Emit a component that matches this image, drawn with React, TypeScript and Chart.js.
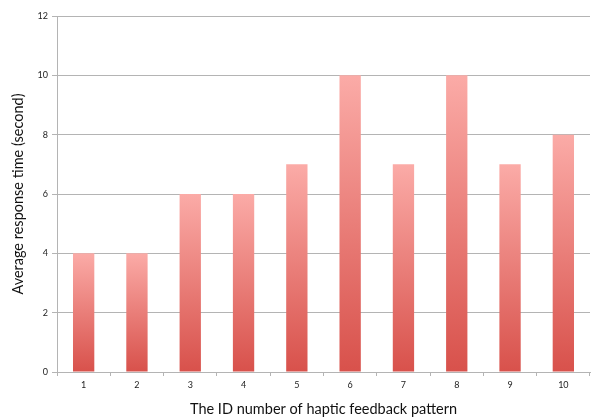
import React, { useEffect, useRef } from "react";
import { Chart, registerables } from "chart.js";

Chart.register(...registerables);

const patternIds = ["1", "2", "3", "4", "5", "6", "7", "8", "9", "10"];
const responseTimes = [4, 4, 6, 6, 7, 10, 7, 10, 7, 8];
const yTicks = [0, 2, 4, 6, 8, 10, 12];

const BAR_TOP = "#fbaba7";
const BAR_BOTTOM = "#d8514b";
const GRID = "#b4b4b4";
const FONT = "Lato, 'Liberation Sans', sans-serif";

export default function App() {
  const canvasRef = useRef<HTMLCanvasElement | null>(null);

  useEffect(() => {
    const canvas = canvasRef.current;
    if (!canvas) return;

    // Each bar fades from light pink at its top to deep red at the baseline.
    const barFill = (ctx: any) => {
      const chart = ctx.chart;
      const y = chart.scales?.y;
      if (!chart.chartArea || !y || ctx.dataIndex === undefined) return BAR_BOTTOM;
      const v = ctx.raw as number;
      const top = y.getPixelForValue(v);
      const base = y.getPixelForValue(0);
      const g = chart.ctx.createLinearGradient(0, top, 0, base);
      g.addColorStop(0, BAR_TOP);
      g.addColorStop(1, BAR_BOTTOM);
      return g;
    };

    const chart = new Chart(canvas, {
      type: "bar",
      data: {
        labels: patternIds,
        datasets: [
          {
            data: responseTimes,
            backgroundColor: barFill,
            borderWidth: 0,
            barPercentage: 0.8,
            categoryPercentage: 0.5,
          },
        ],
      },
      options: {
        responsive: false,
        animation: false,
        layout: { padding: { top: 16, right: 2, left: 0, bottom: 0 } },
        plugins: {
          legend: { display: false },
          tooltip: { enabled: false },
        },
        scales: {
          x: {
            grid: {
              display: true,
              offset: true,
              drawOnChartArea: false,
              drawTicks: true,
              tickLength: 4,
              color: GRID,
            },
            border: { display: true, color: GRID },
            ticks: {
              color: "#222",
              font: { family: FONT, size: 9 },
              padding: 4,
            },
            title: {
              display: true,
              text: "The ID number of haptic feedback pattern",
              color: "#111",
              font: { family: FONT, size: 14.5 },
              padding: { top: 6, bottom: 1 },
            },
            afterFit: (scale: any) => {
              scale.height = 47;
            },
          },
          y: {
            min: 0,
            max: 12,
            afterBuildTicks: (scale: any) => {
              scale.ticks = yTicks.map((v) => ({ value: v }));
            },
            grid: {
              color: GRID,
              tickLength: 5,
              lineWidth: 1,
            },
            border: { display: true, color: GRID },
            ticks: {
              color: "#222",
              font: { family: FONT, size: 9 },
              padding: 4,
            },
            title: {
              display: true,
              text: "Average response time (second)",
              color: "#111",
              font: { family: FONT, size: 14.5 },
              padding: { top: 10, bottom: 0 },
            },
            afterFit: (scale: any) => {
              scale.width = 57;
            },
          },
        },
      },
    });

    return () => chart.destroy();
  }, []);

  return (
    <div style={{ position: "fixed", left: 0, top: 0, width: 592, height: 419, background: "#fff" }}>
      <canvas ref={canvasRef} width={592} height={419} />
    </div>
  );
}
